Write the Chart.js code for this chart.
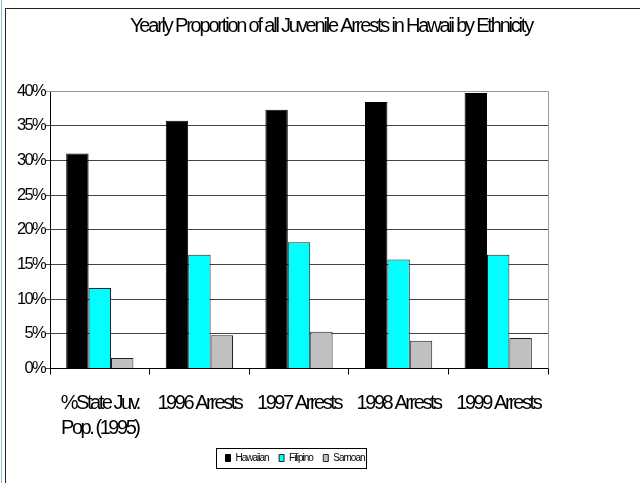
<!DOCTYPE html>
<html>
<head>
<meta charset="utf-8">
<script src="https://cdn.jsdelivr.net/npm/chart.js@4.4.1/dist/chart.umd.min.js"></script>
<style>
  html, body { margin: 0; padding: 0; background: #fff; }
  #wrap { position: relative; width: 640px; height: 483px; overflow: hidden; }
  #frame { position: absolute; left: 5px; top: 8px; width: 700px; height: 600px;
           border-left: 1px solid #222; border-top: 1px solid #222; }
  #edge { position: absolute; left: 1px; top: 0; width: 1px; height: 483px; background: #7fc4cf; }
  canvas { position: absolute; left: 0; top: 0; }
</style>
</head>
<body>
<div id="wrap">
  <div id="edge"></div>
  <div id="frame"></div>
  <canvas id="chart" width="640" height="483"></canvas>
</div>
<script>
const categories = [["%State Juv.", "Pop. (1995)"], "1996 Arrests", "1997 Arrests", "1998 Arrests", "1999 Arrests"];
const hawaiian = [31.0, 35.7, 37.3, 38.4, 39.7];
const filipino = [11.6, 16.4, 18.2, 15.7, 16.4];
const samoan = [1.5, 4.8, 5.3, 4.0, 4.4];
const yMin = 0, yMax = 40, yStep = 5;

const FONT = "'Liberation Sans', Arial, sans-serif";
// the old excel picture has very squashed text, fake it with letter spacing
const spacing = { title: '-2.2px', x: '-2.45px', y: '-1.7px', legend: '-1px' };

function squeezeBox(box, method, sp) {
    if (!box || box['_sq_' + method]) return;
    const orig = box[method];
    box[method] = function (...args) {
        const c = this.ctx;
        const prev = c.letterSpacing;
        c.letterSpacing = sp;
        orig.apply(this, args);
        c.letterSpacing = prev;
    };
    box['_sq_' + method] = true;
}

const squeeze = {
    id: 'squeeze',
    beforeLayout(chart) { chart.ctx.letterSpacing = spacing.legend; },
    afterLayout(chart) {
        squeezeBox(chart.titleBlock, 'draw', spacing.title);
        squeezeBox(chart.scales.x, 'drawLabels', spacing.x);
        squeezeBox(chart.scales.y, 'drawLabels', spacing.y);
        // title and legend are not centred on the plot in the original
        chart.titleBlock.left += 57; chart.titleBlock.right += 57;
        chart.legend.left -= 4; chart.legend.right -= 4;
    },
    beforeDraw(chart) { chart.ctx.letterSpacing = spacing.legend; }
};

// box round the legend + grey frame on top/right of plot
const extras = {
    id: 'extras',
    afterDraw(chart) {
        const ctx = chart.ctx, a = chart.chartArea;
        ctx.save();
        ctx.strokeStyle = '#999';
        ctx.lineWidth = 1;
        ctx.beginPath();
        ctx.moveTo(a.left, a.top + 0.5);
        ctx.lineTo(Math.round(a.right) + 0.5, a.top + 0.5);
        ctx.lineTo(Math.round(a.right) + 0.5, a.bottom);
        ctx.stroke();
        const boxes = chart.legend.legendHitBoxes;
        if (boxes && boxes.length) {
            const first = boxes[0], last = boxes[boxes.length - 1];
            const x1 = Math.round(first.left - 9) + 0.5;
            const x2 = Math.round(last.left + last.width + 1) + 0.5;
            const y1 = Math.round(first.top - 5) + 0.5;
            const y2 = Math.round(first.top + first.height + 5) + 0.5;
            ctx.strokeStyle = '#000';
            ctx.strokeRect(x1, y1, x2 - x1, y2 - y1);
        }
        ctx.restore();
    }
};

new Chart(document.getElementById("chart"), {
    type: 'bar',
    data: {
        labels: categories,
        datasets: [{
            label: "Hawaiian",
            data: hawaiian,
            backgroundColor: "#000000",
            borderColor: "#000000",
            borderWidth: 1
        }, {
            label: "Filipino",
            data: filipino,
            backgroundColor: "#00FFFF",
            borderColor: "#222222",
            borderWidth: 1
        }, {
            label: "Samoan",
            data: samoan,
            backgroundColor: "#C0C0C0",
            borderColor: "#222222",
            borderWidth: 1
        }]
    },
    options: {
        responsive: false,
        animation: false,
        devicePixelRatio: 1,
        layout: { padding: { left: 0, right: 92, top: 0, bottom: 10 } },
        datasets: { bar: { categoryPercentage: 0.675, barPercentage: 1 } },
        scales: {
            x: {
                afterFit(scale) { scale.height = 74; },
                grid: { drawOnChartArea: false, tickLength: 6, color: '#000', offset: true },
                border: { color: '#000' },
                ticks: {
                    color: '#000', padding: 16, maxRotation: 0, autoSkip: false,
                    font: { family: FONT, size: 20, lineHeight: 1.25 }
                }
            },
            y: {
                min: yMin, max: yMax,
                afterFit(scale) { scale.width = 50; },
                grid: {
                    tickLength: 4,
                    color: ctx => ctx.tick && ctx.tick.value === yMax ? '#999' : '#444'
                },
                border: { color: '#000' },
                ticks: {
                    stepSize: yStep, color: '#000', padding: 1,
                    font: { family: FONT, size: 16.5 },
                    callback: v => v + '%'
                }
            }
        },
        plugins: {
            title: {
                display: true,
                text: 'Yearly Proportion of all Juvenile Arrests in Hawaii by Ethnicity',
                color: '#000',
                font: { family: FONT, size: 20, weight: 'normal' },
                padding: { top: 14, bottom: 53 }
            },
            legend: {
                position: 'bottom',
                fullSize: false,
                labels: {
                    color: '#000',
                    boxWidth: 5, boxHeight: 7,
                    padding: 10.5,
                    font: { family: FONT, size: 10 }
                }
            },
            tooltip: { enabled: false }
        }
    },
    plugins: [squeeze, extras]
});
</script>
</body>
</html>
